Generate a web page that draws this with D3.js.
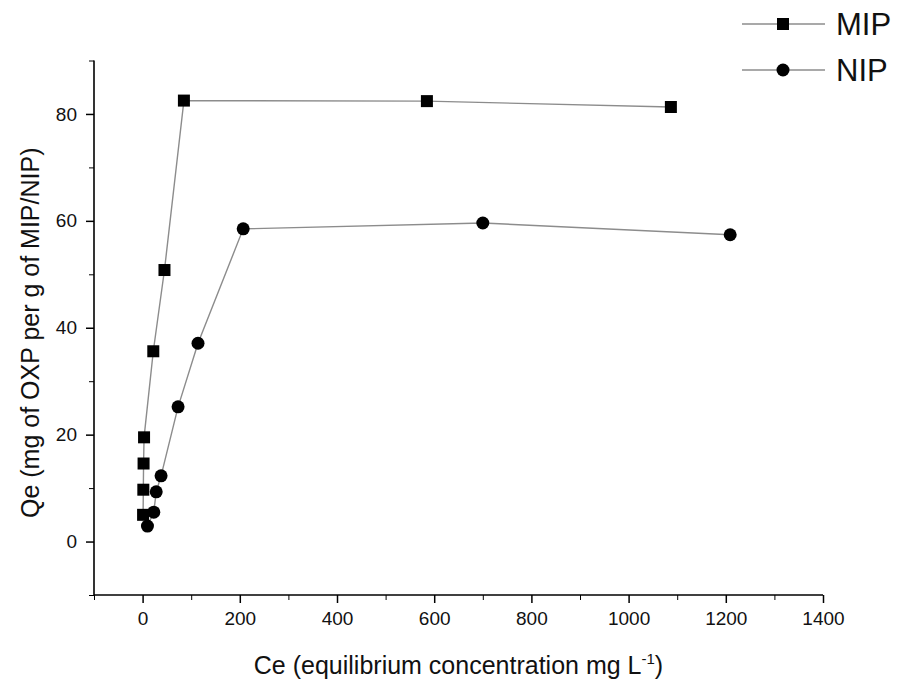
<!DOCTYPE html>
<html>
<head>
<meta charset="utf-8">
<script src="https://cdn.jsdelivr.net/npm/d3@7"></script>
<style>
  body { margin: 0; background: #fff; }
  text { font-family: "Liberation Sans", Arial, sans-serif; fill: #111; }
</style>
</head>
<body>
<div id="chart"></div>
<script>
// Data
const mipCe = [1, 1.5, 2, 3, 22, 45, 85, 585, 1087];
const mipQe = [5.0, 9.7, 14.6, 19.5, 35.6, 50.8, 82.5, 82.4, 81.3];
const nipCe = [10, 23, 28, 38, 73, 114, 207, 700, 1209];
const nipQe = [2.9, 5.5, 9.3, 12.3, 25.2, 37.1, 58.5, 59.6, 57.4];
const xTicks = [0, 200, 400, 600, 800, 1000, 1200, 1400];
const yTicks = [0, 20, 40, 60, 80];

const width = 901, height = 688;
const margin = { top: 60, right: 78, bottom: 90, left: 94 };

const svg = d3.select("#chart")
  .append("svg")
  .attr("width", width)
  .attr("height", height);

const x = d3.scaleLinear()
  .domain([-100, 1400])
  .range([margin.left, 823]);

const y = d3.scaleLinear()
  .domain([-10, 90])
  .range([595, 60.5]);

const lineCol = "#8c8c8c";

// axes, major + minor ticks
const xMinor = d3.range(-100, 1401, 100).filter(v => !xTicks.includes(v));
const yMinor = d3.range(-10, 91, 10).filter(v => !yTicks.includes(v));

svg.append("g")
  .attr("transform", `translate(0,${y(-10)})`)
  .call(d3.axisBottom(x).tickValues(xMinor).tickSize(5).tickFormat(""))
  .call(g => g.select(".domain").remove());

const xa = svg.append("g")
  .attr("transform", `translate(0,${y(-10)})`)
  .call(d3.axisBottom(x).tickValues(xTicks).tickSize(8).tickSizeOuter(0).tickPadding(9).tickFormat(d3.format("d")));
xa.select(".domain").attr("d", `M${x(-100)},0H${x(1400)}`).attr("stroke-width", 1.6);
xa.selectAll(".tick line").attr("stroke-width", 1.5);
xa.selectAll("text").attr("font-size", 19);

svg.append("g")
  .attr("transform", `translate(${x(-100)},0)`)
  .call(d3.axisLeft(y).tickValues(yMinor).tickSize(5).tickFormat(""))
  .call(g => g.select(".domain").remove());

const ya = svg.append("g")
  .attr("transform", `translate(${x(-100)},0)`)
  .call(d3.axisLeft(y).tickValues(yTicks).tickSize(8).tickSizeOuter(0).tickPadding(9));
ya.select(".domain").attr("d", `M0,${y(90)}V${y(-10)}`).attr("stroke-width", 1.6);
ya.selectAll(".tick line").attr("stroke-width", 1.5);
ya.selectAll("text").attr("font-size", 19);

// series
const series = [
  { name: "MIP", xs: mipCe, ys: mipQe, shape: "square" },
  { name: "NIP", xs: nipCe, ys: nipQe, shape: "circle" }
];

const line = d3.line().x(d => x(d[0])).y(d => y(d[1]));

series.forEach(s => {
  const pts = s.xs.map((v, i) => [v, s.ys[i]]);
  svg.append("path")
    .datum(pts)
    .attr("fill", "none")
    .attr("stroke", lineCol)
    .attr("stroke-width", 1.4)
    .attr("d", line);
  drawMarks(svg, pts.map(p => [x(p[0]), y(p[1])]), s.shape);
});

function drawMarks(g, pts, shape) {
  if (shape === "square") {
    g.selectAll(null).data(pts).enter().append("rect")
      .attr("x", d => d[0] - 6).attr("y", d => d[1] - 6)
      .attr("width", 12).attr("height", 12)
      .attr("fill", "#000");
  } else {
    g.selectAll(null).data(pts).enter().append("circle")
      .attr("cx", d => d[0]).attr("cy", d => d[1])
      .attr("r", 6.5)
      .attr("fill", "#000");
  }
}

// legend
series.forEach((s, i) => {
  const ly = 24 + i * 46;
  svg.append("line")
    .attr("x1", 742).attr("x2", 825)
    .attr("y1", ly).attr("y2", ly)
    .attr("stroke", lineCol).attr("stroke-width", 1.4);
  drawMarks(svg, [[783, ly]], s.shape);
  svg.append("text")
    .attr("x", 836).attr("y", ly + 11)
    .attr("font-size", 31)
    .text(s.name);
});

// axis titles
const xt = svg.append("text")
  .attr("x", (x(-100) + x(1400)) / 2)
  .attr("y", 674)
  .attr("text-anchor", "middle")
  .attr("font-size", 25);
xt.append("tspan").text("Ce (equilibrium concentration mg L");
xt.append("tspan").attr("dy", -10).attr("font-size", 15).text("-1");
xt.append("tspan").attr("dy", 10).text(")");

svg.append("text")
  .attr("transform", `translate(39,${(y(-10) + y(90)) / 2 + 5}) rotate(-90)`)
  .attr("text-anchor", "middle")
  .attr("font-size", 25)
  .text("Qe (mg of OXP per g of MIP/NIP)");
</script>
</body>
</html>
